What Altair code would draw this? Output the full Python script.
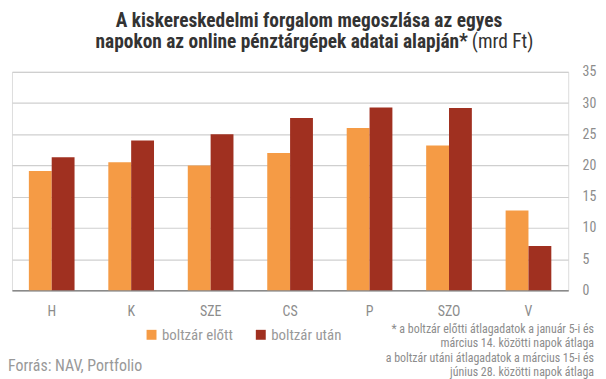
import altair as alt
import pandas as pd

days = ["H", "K", "SZE", "CS", "P", "SZO", "V"]
series = ["boltzár előtt", "boltzár után"]
before = [19.1, 20.5, 20.0, 22.0, 26.0, 23.2, 12.8]
after = [21.3, 24.0, 25.0, 27.6, 29.3, 29.2, 7.1]
y_ticks = [0, 5, 10, 15, 20, 25, 30, 35]
colors = ["#F59B45", "#A03020"]

title1 = "A kiskereskedelmi forgalom megoszlása az egyes"
title2_bold = "napokon az online pénztárgépek adatai alapján*"
title2_norm = "(mrd Ft)"
source = "Forrás: NAV, Portfolio"
notes = [
    "* a boltzár előtti átlagadatok a január 5-i és",
    "március 14. közötti napok átlaga",
    "a boltzár utáni átlagadatok a március 15-i és",
    "június 28.  közötti napok átlaga",
]

FONT = "'Roboto Condensed', 'Liberation Sans Narrow', 'DejaVu Sans Condensed', Roboto, sans-serif"
GREY = "#8c8c8c"

rows = []
for i, d in enumerate(days):
    rows.append({"day": d, "series": series[0], "value": before[i]})
    rows.append({"day": d, "series": series[1], "value": after[i]})
df = pd.DataFrame(rows)

bars = alt.Chart(df).mark_bar().encode(
    x=alt.X("day:N", sort=days, title=None,
            scale=alt.Scale(paddingInner=0.425, paddingOuter=0.2125),
            axis=alt.Axis(labelAngle=0, labelColor=GREY, labelFontSize=14, labelFont=FONT,
                          labelPadding=14, ticks=False, domainColor="#8a8a8a", domainWidth=1.5,
                          grid=False)),
    xOffset=alt.XOffset("series:N", sort=series, scale=alt.Scale(paddingInner=0, paddingOuter=0)),
    y=alt.Y("value:Q", title=None,
            scale=alt.Scale(domain=[0, 35], nice=False),
            axis=alt.Axis(orient="right", values=y_ticks, labelColor=GREY, labelFontSize=14,
                          labelFont=FONT, labelPadding=14, ticks=False, domain=False,
                          gridColor="#cfcfcf", gridWidth=1.2)),
    color=alt.Color("series:N", sort=series,
                    scale=alt.Scale(domain=series, range=colors),
                    legend=alt.Legend(title=None, orient="none", legendX=133, legendY=257,
                                      direction="horizontal", symbolType="square",
                                      symbolSize=100, symbolStrokeWidth=0,
                                      labelFontSize=15, labelColor="#999999", labelFont=FONT,
                                      labelOffset=3, columnPadding=20)),
)

def txt(text, x, y, size, weight="normal", align="center", color="#333333"):
    return alt.Chart(pd.DataFrame({"t": [text]})).mark_text(
        align=align, baseline="middle", fontSize=size, fontWeight=weight, font=FONT, color=color
    ).encode(text="t:N", x=alt.value(x), y=alt.value(y))

layers = [bars,
          txt(title1, 299, -51.5, 19.5, "bold"),
          txt(title2_bold, 459, -29.5, 19.5, "bold", "right"),
          txt(title2_norm, 463, -29.5, 19.5, "normal", "left"),
          txt(source, -4, 296, 16, "normal", "left", "#999999")]
for i, n in enumerate(notes):
    layers.append(txt(n, 586, 259 + i * 14.4, 12, "normal", "right", GREY))

chart = alt.layer(*layers).properties(
    width=560, height=220,
    autosize=alt.AutoSizeParams(type="none"),
    padding={"left": 4, "top": 63, "right": 30, "bottom": 90},
).configure_view(stroke=None).configure(background="white")

chart.save("out.html", embed_options={"renderer": "svg", "actions": False})
